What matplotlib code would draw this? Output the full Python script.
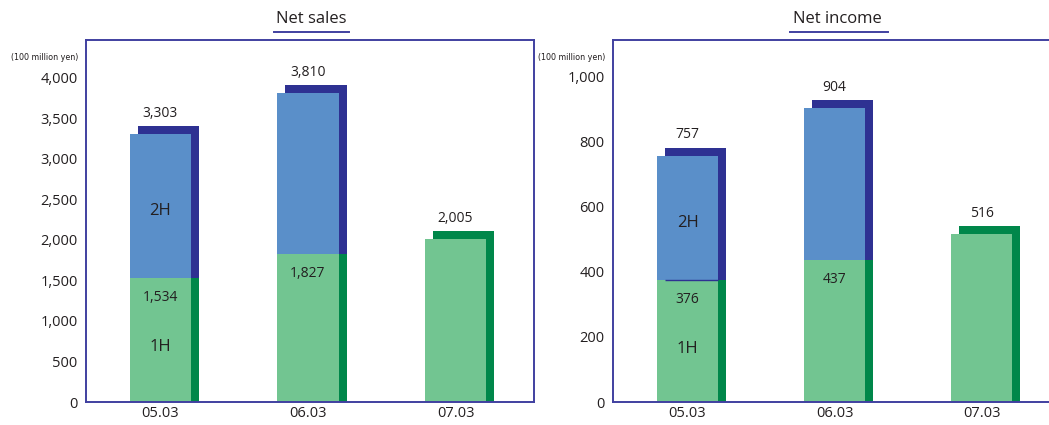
import numpy as np
import matplotlib
matplotlib.use('Agg')
import matplotlib.pyplot as plt
import matplotlib.transforms as mtransforms

# data
categories = ['05.03', '06.03', '07.03']
sales_1h = [1534, 1827, 2005]
sales_total = [3303, 3810, 2005]
sales_has_2h = [True, True, False]
income_1h = [376, 437, 516]
income_total = [757, 904, 516]
income_has_2h = [True, True, False]
sales_ticks = [0, 500, 1000, 1500, 2000, 2500, 3000, 3500, 4000]
income_ticks = [0, 200, 400, 600, 800, 1000]

plt.rcParams['font.family'] = ['Open Sans', 'DejaVu Sans']

col_1h = '#72c591'
col_2h = '#5a8fc9'
col_1h_dark = '#00874a'
col_2h_dark = '#2e3192'
frame_col = '#4040a0'
text_col = '#231f20'

fig = plt.figure(figsize=(10.49, 4.25), dpi=100)
ax1 = fig.add_axes([86/1049, 23/425, 448/1049, 362/425])
ax2 = fig.add_axes([613/1049, 23/425, 436/1049, 362/425])

width = 0.415


def fmt(v):
    return '{:,}'.format(v)


def draw_panel(ax, first, total, has_2h, ticks, ylim, xlim, title, title_x, uline):
    x = np.arange(len(categories))
    second = [t - f for t, f in zip(total, first)]
    ax.set_xlim(*xlim)
    ax.set_ylim(0, ylim)

    # shadow: shifted right, top raised
    sh_xy = ax.transData + mtransforms.ScaledTranslation(0.08, 0.08, fig.dpi_scale_trans)
    sh_x = ax.transData + mtransforms.ScaledTranslation(0.08, 0.0, fig.dpi_scale_trans)
    top_cols = [col_2h_dark if h else col_1h_dark for h in has_2h]
    ax.bar(x, total, width=width, color=top_cols, transform=sh_xy, zorder=1)
    ax.bar(x, first, width=width, color=col_1h_dark, transform=sh_x, zorder=1)

    # front bars
    ax.bar(x, first, width=width, color=col_1h, zorder=2)
    ax.bar(x, second, bottom=first, width=width, color=col_2h, zorder=2)

    for i in range(len(x)):
        ax.annotate(fmt(total[i]), (x[i], total[i]), xytext=(0, 15),
                    textcoords='offset points', ha='center', va='center',
                    fontsize=10, color=text_col, zorder=4)
        if has_2h[i]:
            ax.annotate(fmt(first[i]), (x[i], first[i]), xytext=(0, -14),
                        textcoords='offset points', ha='center', va='center',
                        fontsize=10, color=text_col, zorder=4)
    # 1H / 2H labels on first bar
    ax.annotate('2H', (x[0], (first[0] + total[0]) / 2), xytext=(0, -4),
                textcoords='offset points', ha='center', va='center',
                fontsize=12, color=text_col, zorder=4)
    ax.annotate('1H', (x[0], first[0]), xytext=(0, -50),
                textcoords='offset points', ha='center', va='center',
                fontsize=12, color=text_col, zorder=4)

    ax.set_xticks(x)
    ax.set_xticklabels(categories)
    ax.set_yticks(ticks)
    ax.set_yticklabels([fmt(t) for t in ticks])
    ax.tick_params(length=0, labelsize=10.5, colors=text_col)
    ax.tick_params(axis='y', pad=6)
    ax.tick_params(axis='x', pad=3)

    for s in ['left', 'top', 'bottom', 'right']:
        ax.spines[s].set_color(frame_col)
        ax.spines[s].set_linewidth(1.4)

    ax.text(title_x, 1.057, title, transform=ax.transAxes, ha='center',
            va='center', fontsize=12, color=text_col)
    ax.plot(uline, [1.022, 1.022], transform=ax.transAxes, color=frame_col,
            lw=1.4, clip_on=False)
    ax.text(-0.018, 0.952, '(100 million yen)', transform=ax.transAxes,
            ha='right', va='center', fontsize=6.4, color=text_col,
            family='DejaVu Sans', fontstretch='condensed')


draw_panel(ax1, sales_1h, sales_total, sales_has_2h, sales_ticks, 4463,
           (-0.505, 2.532), 'Net sales', 0.503, [0.42, 0.587])
draw_panel(ax2, income_1h, income_total, income_has_2h, income_ticks, 1113,
           (-0.507, 2.459), 'Net income', 0.515, [0.406, 0.631])
ax2.spines['right'].set_visible(False)
# thin divider line seen on the 05.03 net income bar
ax2.hlines(income_1h[0], -width / 2 + 0.055, width / 2, color=col_2h_dark,
           lw=1, zorder=3)

fig.savefig('out.png', dpi=100)
